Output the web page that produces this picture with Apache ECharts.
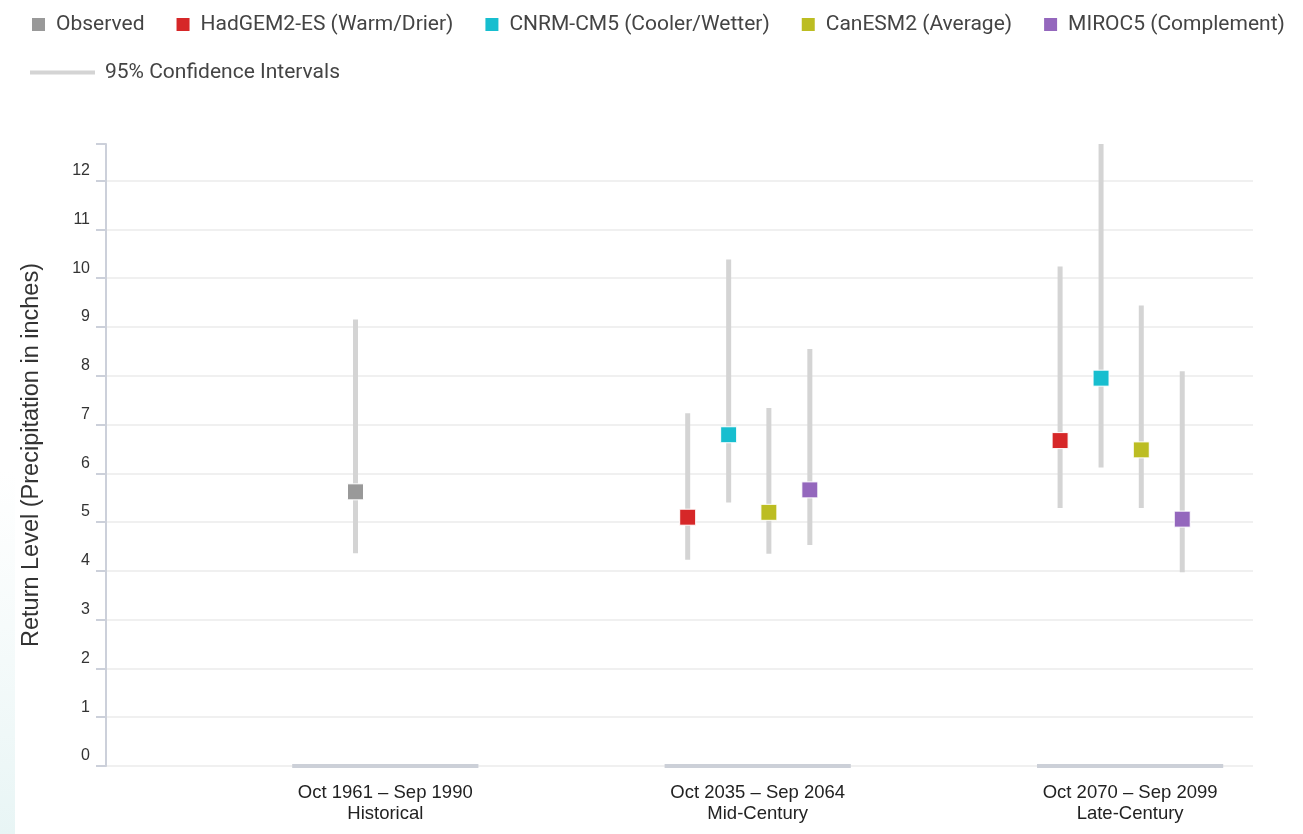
<!DOCTYPE html>
<html>
<head>
  <meta charset="utf-8">
  <title>Return Level</title>
  <script src="https://cdn.jsdelivr.net/npm/echarts@6/dist/echarts.min.js"></script>
  <style>
    html, body { margin: 0; padding: 0; background: #fff; }
    #box { width: 1303px; height: 834px; }
  </style>
</head>
<body>
<div id="box"></div>
<script>
// periods on the x axis
var periods = ['Oct 1961 \u2013 Sep 1990', 'Oct 2035 \u2013 Sep 2064', 'Oct 2070 \u2013 Sep 2099'];
var eras = ['Historical', 'Mid-Century', 'Late-Century'];

var seriesNames = ['Observed', 'HadGEM2-ES (Warm/Drier)', 'CNRM-CM5 (Cooler/Wetter)', 'CanESM2 (Average)', 'MIROC5 (Complement)'];
var ciName = '95% Confidence Intervals';

// [return level, low CI, high CI] per period, null = no value
var observed = [[5.62, 4.36, 9.15], null, null];
var hadgem   = [null, [5.10, 4.23, 7.23], [6.67, 5.29, 10.24]];
var cnrm     = [null, [6.79, 5.40, 10.38], [7.95, 6.12, 12.75]];
var canesm   = [null, [5.20, 4.35, 7.34], [6.48, 5.29, 9.44]];
var miroc    = [null, [5.66, 4.53, 8.55], [5.06, 3.97, 8.09]];

var yTicks = [0, 1, 2, 3, 4, 5, 6, 7, 8, 9, 10, 11, 12];

var allSeries = [observed, hadgem, cnrm, canesm, miroc];
var colors = ['#999999', '#d62728', '#17becf', '#bcbd22', '#9467bd'];
// horizontal place of each series inside its period group
var shift = [-0.08, -0.188, -0.078, 0.03, 0.14];

var ciData = [];
var scatter = allSeries.map(function (s, k) {
  var pts = [];
  s.forEach(function (d, i) {
    if (!d) return;
    pts.push([i + shift[k], d[0]]);
    ciData.push([i + shift[k], d[1], d[2]]);
  });
  var ser = {
    name: seriesNames[k],
    type: 'scatter',
    symbol: 'rect',
    symbolSize: 16,
    z: 5,
    itemStyle: { color: colors[k], borderColor: '#fff', borderWidth: 1, opacity: 1 },
    data: pts
  };
  if (k == 0) {
    // grey band under each period on the x axis
    ser.markLine = {
      silent: true,
      symbol: 'none',
      label: { show: false },
      lineStyle: { color: '#ccd0d8', width: 4, type: 'solid' },
      data: periods.map(function (p, i) {
        return [{ coord: [i - 0.25, 0] }, { coord: [i + 0.25, 0] }];
      })
    };
  }
  return ser;
});

var myChart = echarts.init(document.getElementById('box'));
myChart.setOption({
  animation: false,
  backgroundColor: '#fff',
  graphic: [{
    type: 'rect',
    left: 0, top: 470,
    shape: { width: 15, height: 364 },
    style: { fill: new echarts.graphic.LinearGradient(0, 0, 0, 1, [
      { offset: 0, color: 'rgba(236,246,246,0)' },
      { offset: 1, color: 'rgba(232,245,245,1)' }
    ]) },
    z: -1
  }],
  legend: [{
    data: seriesNames,
    left: 25, top: 9,
    icon: 'rect',
    itemWidth: 15, itemHeight: 15,
    itemGap: 30,
    textStyle: { fontFamily: 'Roboto', fontSize: 21, color: '#444', padding: [0, 0, 0, 5] }
  }, {
    data: [{ name: ciName, icon: 'rect' }],
    left: 25, top: 57,
    itemWidth: 65, itemHeight: 4,
    textStyle: { fontFamily: 'Roboto', fontSize: 21, color: '#444', padding: [0, 0, 0, 5] }
  }],
  grid: { left: 106, right: 50, top: 144, bottom: 68 },
  xAxis: {
    type: 'value',
    min: -0.75, max: 2.33, interval: 0.25,
    axisLine: { show: false },
    axisTick: { show: false },
    splitLine: { show: false },
    axisLabel: {
      margin: 16,
      fontFamily: 'Liberation Sans',
      fontSize: 18.5,
      lineHeight: 21,
      color: '#222',
      formatter: function (v) {
        var i = Math.round(v);
        if (Math.abs(v - i) < 1e-6 && i >= 0 && i < periods.length) return periods[i] + '\n' + eras[i];
        return '';
      }
    }
  },
  yAxis: {
    type: 'value',
    min: 0, max: 12.75, interval: 1,
    name: 'Return Level (Precipitation in inches)',
    nameLocation: 'middle',
    nameGap: 62,
    nameTextStyle: { fontFamily: 'Liberation Sans', fontSize: 23.5, color: '#333' },
    axisLine: { show: true, onZero: false, lineStyle: { color: '#ccd0da', width: 2 } },
    axisTick: { show: true, length: 10, lineStyle: { color: '#ccd0da', width: 2 } },
    splitLine: { show: true, showMaxLine: false, lineStyle: { color: '#ebebeb', width: 1.5 } },
    axisLabel: {
      margin: 16,
      fontFamily: 'Liberation Sans',
      fontSize: 16,
      color: '#333',
      verticalAlign: 'bottom',
      padding: [0, 0, 2, 0],
      formatter: function (v) { return yTicks.indexOf(v) >= 0 ? String(v) : ''; }
    }
  },
  series: [{
    name: ciName,
    type: 'custom',
    z: 2,
    itemStyle: { color: '#d4d4d4' },
    encode: { x: 0, y: [1, 2] },
    renderItem: function (params, api) {
      var x = api.value(0);
      var a = api.coord([x, api.value(1)]);
      var b = api.coord([x, api.value(2)]);
      return {
        type: 'line',
        shape: { x1: a[0], y1: a[1], x2: b[0], y2: b[1] },
        style: { stroke: '#d4d4d4', lineWidth: 5 }
      };
    },
    data: ciData
  }].concat(scatter)
});
</script>
</body>
</html>
